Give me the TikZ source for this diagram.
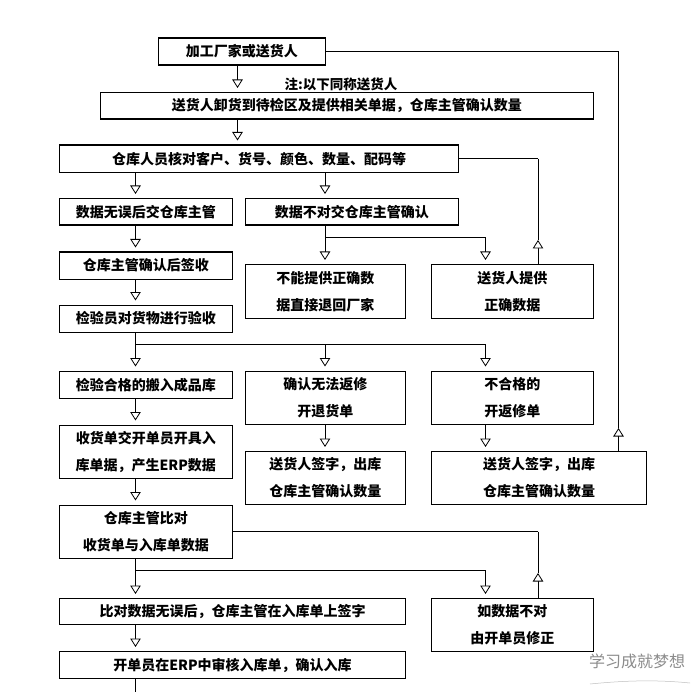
\documentclass[tikz,border=0pt]{standalone}
\usepackage{fontspec}
\setmainfont{Noto Sans CJK SC}
\usetikzlibrary{arrows.meta}
\begin{document}
\begin{tikzpicture}[x=1pt,y=-1pt,
  box/.style={draw, line width=1.1pt, anchor=north west, inner sep=0pt, align=center,
    font=\fontsize{14}{27}\selectfont\bfseries},
  tipd/.style={-{Triangle[length=8.5pt,width=10.5pt,fill=white,line width=0.8pt]}},
  thickln/.style={line width=1.4pt},
  thinln/.style={line width=0.7pt},
  conn/.style={thickln, tipd, shorten >=4pt},
  tconn/.style={thinln, tipd, shorten >=4pt},
  upconn/.style={thinln, tipd},
  wmark/.style={text=black!45, font=\fontsize{16}{16}\selectfont}
]
\fill[white] (0,0) rectangle (700,692);
\useasboundingbox (0,0) rectangle (700,692);

% column coordinates
\coordinate (c1) at (135.5,0);
\coordinate (c2) at (325,0);
\coordinate (c3) at (485.5,0);
\coordinate (c4) at (538,0);
\coordinate (c5) at (618.5,0);
\coordinate (c6) at (237.5,0);

% boxes
\node[box, minimum width=167.5pt, minimum height=27pt] (n1) at (157.5,37.5) {加工厂家或送货人};
\node[font=\fontsize{13.5}{15}\selectfont\bfseries] (note) at (341,84) {注:以下同称送货人};
\node[box, minimum width=492.5pt, minimum height=26.5pt] (n2) at (100,92) {送货人卸货到待检区及提供相关单据，仓库主管确认数量};
\node[box, minimum width=399pt, minimum height=27.5pt] (n3) at (59,144.5) {仓库人员核对客户、货号、颜色、数量、配码等};
\node[box, minimum width=172.5pt, minimum height=26.5pt] (n4) at (59,198) {数据无误后交仓库主管};
\node[box, minimum width=213.5pt, minimum height=26.5pt] (n5) at (244.5,198) {数据不对交仓库主管确认};
\node[box, minimum width=172.5pt, minimum height=27pt] (n6) at (59,251.5) {仓库主管确认后签收};
\node[box, minimum width=160.5pt, minimum height=54pt] (n7) at (244.5,264) {不能提供正确数\\据直接退回厂家};
\node[box, minimum width=161.5pt, minimum height=54pt] (n8) at (431,264) {送货人提供\\正确数据};
\node[box, minimum width=172.5pt, minimum height=27pt] (n9) at (59,304.5) {检验员对货物进行验收};
\node[box, minimum width=172.5pt, minimum height=27.5pt] (n10) at (59,370.5) {检验合格的搬入成品库};
\node[box, minimum width=160.5pt, minimum height=53.5pt] (n11) at (244.5,370.5) {确认无法返修\\开退货单};
\node[box, minimum width=161.5pt, minimum height=53.5pt] (n12) at (431,370.5) {不合格的\\开返修单};
\node[box, minimum width=172.5pt, minimum height=53.5pt] (n13) at (59,424.5) {收货单交开单员开具入\\库单据，产生ERP数据};
\node[box, minimum width=160.5pt, minimum height=53pt] (n14) at (244.5,451) {送货人签字，出库\\仓库主管确认数量};
\node[box, minimum width=215pt, minimum height=53pt] (n15) at (431,451) {送货人签字，出库\\仓库主管确认数量};
\node[box, minimum width=172.5pt, minimum height=53pt] (n16) at (59,504.5) {仓库主管比对\\收货单与入库单数据};
\node[box, minimum width=346pt, minimum height=26pt] (n17) at (59,598) {比对数据无误后，仓库主管在入库单上签字};
\node[box, minimum width=161.5pt, minimum height=53pt] (n18) at (431,598) {如数据不对\\由开单员修正};
\node[box, minimum width=346pt, minimum height=27pt] (n19) at (59,651) {开单员在ERP中审核入库单，确认入库};

% junction / free coordinates
\coordinate (j1) at (325,237.7);
\coordinate (j2) at (135.5,344.3);
\coordinate (j3) at (135.5,570.7);
\coordinate (u1) at (538,240);
\coordinate (u2) at (618.5,428);
\coordinate (u3) at (538,573);
\coordinate (endpt) at (135.5,692);

% connectors
\draw[conn] (n1.south -| c6) -- (n2.north -| c6);
\draw[upconn] (n15.north -| c5) -- (u2);
\draw[thinln] (u2) |- (n1.east);
\draw[conn] (n2.south -| c6) -- (n3.north -| c6);
\draw[conn] (n3.south -| c1) -- (n4.north -| c1);
\draw[tconn] (n3.south -| c2) -- (n5.north -| c2);
\draw[tconn] (n5.south -| c2) -- (n7.north -| c2);
\draw[thickln] (j1) -- (j1 -| c3);
\draw[conn] (j1 -| c3) -- (n8.north -| c3);
\draw[upconn] (n8.north -| c4) -- (u1);
\draw[thinln] (u1) -- (n3.east -| c4);
\draw[thickln] (n3.east -| c4) -- (n3.east);
\draw[conn] (n4.south -| c1) -- (n6.north -| c1);
\draw[conn] (n6.south -| c1) -- (n9.north -| c1);
\draw[conn] (n9.south -| c1) -- (n10.north -| c1);
\draw[thinln] (j2) -- (j2 -| c3);
\draw[tconn] (j2 -| c2) -- (n11.north -| c2);
\draw[conn] (j2 -| c3) -- (n12.north -| c3);
\draw[conn] (n10.south -| c1) -- (n13.north -| c1);
\draw[tconn] (n11.south -| c2) -- (n14.north -| c2);
\draw[conn] (n12.south -| c3) -- (n15.north -| c3);
\draw[conn] (n13.south -| c1) -- (n16.north -| c1);
\draw[thickln] (n16.east) -- (n16.east -| c4);
\draw[thinln] (n16.east -| c4) -- (u3);
\draw[upconn] (n18.north -| c4) -- (u3);
\draw[conn] (n16.south -| c1) -- (n17.north -| c1);
\draw[thickln] (j3) -- (j3 -| c3);
\draw[conn] (j3 -| c3) -- (n18.north -| c3);
\draw[conn] (n17.south -| c1) -- (n19.north -| c1);
\draw[thickln] (n19.south -| c1) -- (endpt);

% watermark
\node[wmark] (wm) at (637,661) {学习成就梦想};
\draw[black!25, line width=0.5pt] (590,684) .. controls (630,680) and (660,680) .. (690,683);
\end{tikzpicture}
\end{document}
